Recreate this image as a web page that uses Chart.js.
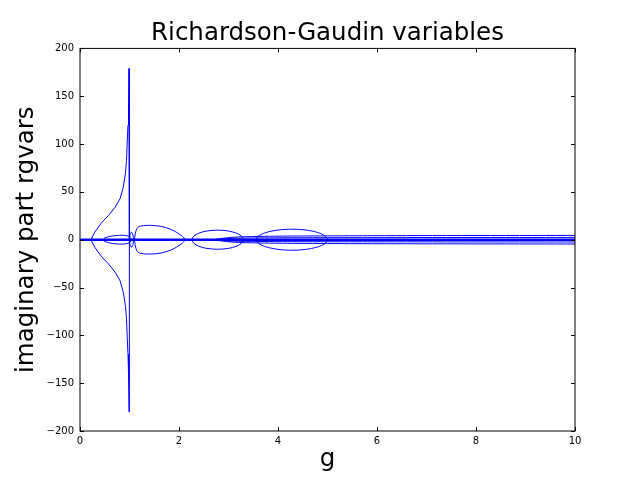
<!DOCTYPE html>
<html>
<head>
<meta charset="utf-8">
<script src="https://cdn.jsdelivr.net/npm/chart.js@4.4.1/dist/chart.umd.min.js"></script>
<style>
  html, body { margin: 0; padding: 0; background: #fff; }
  #wrap { width: 640px; height: 480px; }
</style>
</head>
<body>
<div id="wrap"><canvas id="rg" width="640" height="480"></canvas></div>
<script>
// imaginary parts of the Richardson-Gaudin variables vs coupling g
const xTicks = [0, 2, 4, 6, 8, 10]
const yTicks = [-200, -150, -100, -50, 0, 50, 100, 150, 200]

// all the real roots sit on the axis
const zeroG = [0, 10]
const zeroIm = [0, 0]

// pair that diverges near g = 1
const spikeG = [0.22, 0.30, 0.44, 0.57, 0.71, 0.81, 0.875, 0.92, 0.94, 0.955, 0.97, 0.98, 0.99, 0.995, 1.0]
const spikeUpIm = [0, 8, 18, 25, 34, 43, 55, 70, 83, 103, 120, 140, 179, 90, 0]
const spikeDownIm = [0, -8, -18, -25, -34, -43, -55, -70, -83, -103, -120, -140, -180, -90, 0]

// small closed loops (upper half then lower half)
const loopAG = [0.47, 0.50, 0.60, 0.70, 0.80, 0.90, 0.97, 1.01, 1.04, 1.01, 0.97, 0.90, 0.80, 0.70, 0.60, 0.50, 0.47]
const loopAIm = [0, 1.8, 3.4, 4.2, 4.6, 4.5, 3.8, 2.5, 0, -2.5, -3.8, -4.5, -4.6, -4.2, -3.4, -1.8, 0]

const loopBG = [1.0, 1.01, 1.03, 1.05, 1.07, 1.08, 1.07, 1.05, 1.03, 1.01, 1.0]
const loopBIm = [0, 5, 7.5, 7.5, 5, 0, -5, -7.5, -7.5, -5, 0]

const lobeG = [1.10, 1.11, 1.13, 1.16, 1.22, 1.35, 1.50, 1.65, 1.80, 1.90, 2.00, 2.07, 2.12,
               2.07, 2.00, 1.90, 1.80, 1.65, 1.50, 1.35, 1.22, 1.16, 1.13, 1.11, 1.10]
const lobeIm = [0, 4, 9, 12.5, 14.2, 15, 14.8, 13.8, 11.5, 9.3, 6, 3.5, 0,
                -3.5, -6, -9.3, -11.5, -13.8, -14.8, -15, -14.2, -12.5, -9, -4, 0]

const loopCG = [2.26, 2.30, 2.40, 2.55, 2.78, 3.00, 3.15, 3.25, 3.30, 3.25, 3.15, 3.00, 2.78, 2.55, 2.40, 2.30, 2.26]
const loopCIm = [0, 3.8, 6.8, 9.0, 10, 9.1, 7.0, 4.3, 0, -4.3, -7.0, -9.1, -10, -9.0, -6.8, -3.8, 0]

const loopDG = [3.56, 3.60, 3.75, 4.00, 4.28, 4.55, 4.80, 4.95, 5.00, 4.95, 4.80, 4.55, 4.28, 4.00, 3.75, 3.60, 3.56]
const loopDIm = [0, 3.6, 7.4, 10.1, 11, 10.2, 7.6, 4.0, 0, -4.0, -7.6, -10.2, -11, -10.1, -7.4, -3.6, 0]

// pairs that leave the axis near g = 2.7 and stay complex
const tailG = [2.70, 2.90, 3.20, 4.00, 6.00, 10.0]
const tailAUpIm = [0, 1.0, 1.6, 2.0, 2.2, 2.4]
const tailADownIm = [0, -1.0, -1.6, -2.0, -2.2, -2.4]
const tailBUpIm = [0, 1.6, 2.9, 3.7, 4.2, 4.5]
const tailBDownIm = [0, -1.6, -2.9, -3.7, -4.2, -4.5]

const pts = (gs, ims) => gs.map((g, i) => ({ x: g, y: ims[i] }))

function curve(gs, ims, extra) {
  return Object.assign({
    data: pts(gs, ims),
    showLine: true,
    borderColor: "#0000ff",
    borderWidth: 1,
    pointRadius: 0,
    tension: 0,
    fill: false,
  }, extra || {})
}

const datasets = [
  curve(zeroG, zeroIm, { borderWidth: 2.5 }),
  curve(spikeG, spikeUpIm),
  curve(spikeG, spikeDownIm),
  curve(loopAG, loopAIm, { tension: 0.3 }),
  curve(loopBG, loopBIm, { tension: 0.3 }),
  curve(lobeG, lobeIm, { tension: 0.3 }),
  curve(loopCG, loopCIm, { tension: 0.3 }),
  curve(loopDG, loopDIm, { tension: 0.3 }),
  curve(tailG, tailAUpIm, { tension: 0.2 }),
  curve(tailG, tailADownIm, { tension: 0.2 }),
  curve(tailG, tailBUpIm, { tension: 0.2 }),
  curve(tailG, tailBDownIm, { tension: 0.2 }),
]

const FONT = "'DejaVu Sans', sans-serif"
const fmt = v => (v < 0 ? "\u2212" + Math.abs(v) : String(v))

// matplotlib-style frame with inward ticks on every side
const frame = {
  id: "frame",
  afterDraw(chart) {
    const { ctx, chartArea: a, scales } = chart
    ctx.save()
    ctx.strokeStyle = "#000"
    ctx.lineWidth = 1
    ctx.strokeRect(a.left, a.top, a.right - a.left, a.bottom - a.top)
    const len = 4
    ctx.beginPath()
    xTicks.forEach(v => {
      const px = Math.round(scales.x.getPixelForValue(v)) + 0.5
      ctx.moveTo(px, a.bottom); ctx.lineTo(px, a.bottom - len)
      ctx.moveTo(px, a.top); ctx.lineTo(px, a.top + len)
    })
    yTicks.forEach(v => {
      const py = Math.round(scales.y.getPixelForValue(v)) + 0.5
      ctx.moveTo(a.left, py); ctx.lineTo(a.left + len, py)
      ctx.moveTo(a.right, py); ctx.lineTo(a.right - len, py)
    })
    ctx.stroke()
    ctx.restore()
  },
}

new Chart(document.getElementById("rg"), {
  type: "scatter",
  data: { datasets },
  plugins: [frame],
  options: {
    responsive: false,
    animation: false,
    layout: { padding: { left: 0, right: 65, top: 0, bottom: 0 } },
    plugins: {
      legend: { display: false },
      tooltip: { enabled: false },
      title: {
        display: true,
        fullSize: false,
        text: "Richardson-Gaudin variables",
        color: "#000",
        font: { family: FONT, size: 24.5, weight: "normal" },
        padding: { top: 19, bottom: 0 },
      },
    },
    scales: {
      x: {
        type: "linear",
        min: 0, max: 10,
        afterBuildTicks: s => { s.ticks = xTicks.map(v => ({ value: v })) },
        afterFit: s => { s.height = 49 },
        grid: { display: false, drawTicks: false },
        border: { display: false },
        ticks: { color: "#000", padding: 4, maxRotation: 0, font: { family: FONT, size: 10 }, callback: fmt },
        title: { display: true, text: "g", color: "#000", padding: { top: 0, bottom: 6 }, font: { family: FONT, size: 24.5 } },
      },
      y: {
        type: "linear",
        min: -200, max: 200,
        afterBuildTicks: s => { s.ticks = yTicks.map(v => ({ value: v })) },
        afterFit: s => { s.width = 80 },
        grid: { display: false, drawTicks: false },
        border: { display: false },
        ticks: { color: "#000", padding: 6, font: { family: FONT, size: 10 }, callback: fmt },
        title: { display: true, text: "imaginary part rgvars", color: "#000", padding: { top: 12, bottom: 0 }, font: { family: FONT, size: 24.5 } },
      },
    },
  },
})
</script>
</body>
</html>
